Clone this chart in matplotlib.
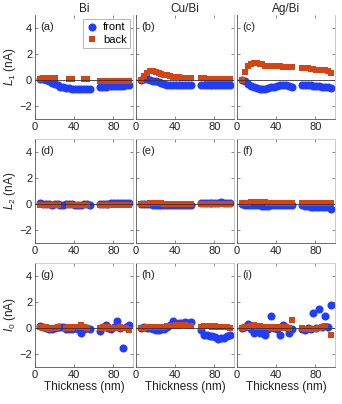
import numpy as np
import matplotlib.pyplot as plt

plt.rcParams['font.family'] = ['Liberation Sans', 'DejaVu Sans']
plt.rcParams['mathtext.fontset'] = 'custom'
plt.rcParams['mathtext.rm'] = 'Liberation Sans'
plt.rcParams['mathtext.it'] = 'Liberation Sans:italic'

nan = np.nan

# film thickness (nm), shared by all panels
thickness = [5, 8, 11, 14, 17, 20, 23, 26, 29, 32, 35, 38, 41, 44, 47, 50, 53, 56,
             66, 69, 72, 75, 78, 81, 84, 87, 90, 93, 96]

titles = ['Bi', 'Cu/Bi', 'Ag/Bi']
ylabels = [r'$L_1$ (nA)', r'$L_2$ (nA)', r'$I_0$ (nA)']
tags = ['(a)', '(b)', '(c)', '(d)', '(e)', '(f)', '(g)', '(h)', '(i)']

# L1
front_a = [0.1, 0.05, 0.0, -0.1, -0.2, -0.3, -0.4, -0.5, -0.55, -0.6, -0.65, -0.7, -0.72, -0.72, -0.72, -0.7, -0.72, -0.7,
           -0.55, -0.5, -0.5, -0.48, -0.45, -0.45, -0.45, -0.45, -0.45, -0.42, -0.42]
back_a = [0.1, 0.15, 0.15, 0.15, 0.15, 0.15, nan, nan, nan, nan, 0.05, 0.05, nan, nan, nan, 0.05, 0.05, nan,
          -0.05, -0.05, -0.05, -0.05, -0.05, -0.05, -0.05, -0.05, -0.05, -0.05, -0.05]
front_b = [0.0, 0.05, 0.05, 0.0, -0.05, -0.1, -0.15, -0.25, -0.3, -0.35, -0.35, -0.38, -0.38, -0.38, -0.38, -0.38, -0.38, -0.38,
           -0.35, -0.35, -0.35, -0.35, -0.35, -0.35, -0.35, -0.35, -0.35, -0.35, -0.35]
back_b = [0.0, 0.3, 0.55, 0.7, 0.72, 0.65, 0.55, 0.45, 0.4, 0.35, 0.3, 0.25, 0.22, 0.2, 0.18, 0.15, 0.15, 0.15,
          0.12, 0.12, 0.1, 0.1, 0.1, 0.1, 0.1, 0.1, 0.08, 0.08, 0.08]
front_c = [0.0, -0.1, -0.3, -0.45, -0.55, -0.65, -0.7, -0.72, -0.7, -0.6, -0.55, -0.5, -0.45, -0.42, -0.4, -0.4, -0.45, -0.5,
           -0.38, -0.4, -0.4, -0.42, -0.45, -0.45, -0.48, -0.5, -0.5, -0.55, -0.6]
back_c = [0.0, 0.6, 1.1, 1.25, 1.3, 1.3, 1.25, 1.2, 1.1, 1.1, 1.05, 1.05, 1.05, 1.05, 1.0, 1.0, 1.0, 1.0,
          0.95, 0.9, 0.9, 0.85, 0.82, 0.8, 0.78, 0.75, 0.75, 0.7, 0.55]

# L2
front_d = [0.05, 0.0, 0.0, 0.0, -0.05, 0.0, 0.0, -0.1, -0.1, 0.0, 0.0, 0.0, -0.05, -0.1, -0.05, 0.0, 0.0, -0.05,
           0.0, 0.0, 0.0, 0.0, 0.05, 0.05, 0.05, 0.1, 0.1, 0.05, 0.05]
back_d = [-0.05, -0.05, -0.05, -0.05, -0.05, -0.05, -0.05, nan, nan, nan, -0.05, -0.05, -0.05, -0.05, -0.05, -0.05, -0.05, nan,
          -0.05, -0.05, -0.05, -0.05, -0.05, -0.05, -0.05, -0.05, -0.05, -0.05, -0.05]
front_e = [0.0, 0.0, 0.0, 0.0, -0.05, -0.05, -0.05, -0.05, -0.05, -0.1, -0.1, -0.1, -0.1, -0.1, -0.1, -0.1, -0.1, -0.05,
           0.05, 0.05, 0.05, 0.05, 0.1, 0.1, 0.1, 0.15, 0.1, 0.1, 0.1]
back_e = [0.0, 0.0, 0.0, 0.05, 0.05, 0.05, 0.05, 0.05, 0.0, 0.0, 0.0, 0.0, 0.0, 0.0, 0.0, 0.0, 0.0, 0.0,
          0.0, 0.0, 0.0, 0.0, 0.0, 0.0, 0.0, 0.0, 0.0, 0.0, 0.0]
front_f = [0.0, -0.1, -0.1, -0.1, -0.1, -0.1, -0.1, -0.15, -0.15, -0.15, -0.1, -0.1, -0.1, -0.1, -0.1, -0.1, -0.1, -0.1,
           -0.1, -0.15, -0.15, -0.2, -0.2, -0.2, -0.2, -0.2, -0.2, -0.25, -0.35]
back_f = [0.05, 0.1, 0.1, 0.15, 0.15, 0.15, 0.15, 0.15, 0.15, 0.1, 0.1, 0.1, 0.1, 0.1, 0.1, 0.1, 0.1, 0.1,
          0.05, 0.05, 0.05, 0.05, 0.05, 0.05, 0.05, 0.05, 0.05, 0.05, 0.1]

# I0
front_g = [0.15, 0.05, 0.0, -0.05, -0.1, 0.0, 0.05, 0.1, 0.05, -0.1, -0.05, -0.1, 0.0, -0.1, -0.35, -0.1, 0.0, -0.1,
           -0.25, 0.05, 0.25, 0.0, -0.1, 0.1, 0.55, 0.0, -1.5, 0.05, 0.2]
back_g = [0.05, 0.0, 0.05, -0.05, 0.0, 0.0, 0.05, nan, nan, 0.0, 0.05, 0.0, 0.05, 0.1, 0.2, 0.05, 0.0, nan,
          0.0, 0.05, 0.0, 0.05, 0.0, 0.0, 0.0, 0.05, 0.0, 0.0, -0.15]
front_h = [0.0, 0.05, 0.0, 0.0, -0.05, -0.15, -0.15, -0.1, -0.1, 0.05, 0.2, 0.55, 0.3, 0.4, 0.4, 0.45, 0.4, 0.45,
           -0.15, -0.5, -0.55, -0.6, -0.6, -0.7, -0.85, -0.8, -0.75, -0.6, -0.5]
back_h = [0.0, 0.0, 0.05, 0.05, 0.1, 0.05, 0.1, 0.1, 0.1, 0.15, 0.15, 0.15, 0.2, 0.15, 0.2, 0.2, 0.15, 0.15,
          0.1, 0.15, 0.15, 0.15, 0.1, 0.15, 0.1, 0.1, 0.05, 0.05, 0.0]
front_i = [0.0, 0.1, 0.3, -0.1, -0.4, -0.2, -0.35, -0.3, -0.55, -0.1, 0.9, 0.0, -0.1, -0.55, 0.25, 0.1, -0.35, -0.1,
           -0.05, -0.15, 0.0, -0.1, 1.15, 0.0, 1.5, 0.05, 0.95, 0.1, 1.8]
back_i = [0.0, 0.05, 0.1, 0.15, 0.25, 0.1, 0.15, 0.1, 0.05, 0.1, 0.0, 0.05, 0.0, 0.05, 0.0, 0.05, 0.0, 0.65,
          0.0, -0.05, -0.05, -0.1, -0.1, -0.05, 0.0, 0.05, 0.15, nan, -0.55]

front = [[front_a, front_b, front_c], [front_d, front_e, front_f], [front_g, front_h, front_i]]
back = [[back_a, back_b, back_c], [back_d, back_e, back_f], [back_g, back_h, back_i]]

blue = '#1f3cff'
red = '#d9430f'

fig = plt.figure(figsize=(3.42, 4.04), dpi=100)
W, H = 342.0, 404.0
lefts = [35, 136, 237]
tops = [15, 139, 263]
aw, ah = 98, 104

for r in range(3):
    for c in range(3):
        ax = fig.add_axes([lefts[c] / W, 1 - (tops[r] + ah) / H, aw / W, ah / H])
        ax.plot(thickness, front[r][c], 'o', color=blue, ms=5.8, mew=0, label='front', zorder=2)
        ax.plot(thickness, back[r][c], 's', color=red, ms=5.0, mew=0, label='back', zorder=3)
        ax.axhline(0, color='#333333', lw=0.6, zorder=5)
        ax.set_xlim(0, 100)
        ax.set_ylim(-3, 5)
        ax.set_xticks([0, 40, 80])
        ax.set_yticks([-2, 0, 2, 4])
        ax.tick_params(direction='in', length=2.5, width=0.5, colors='#555555', labelcolor='#222222',
                       labelsize=8, pad=2, top=True, right=True)
        ax.spines['left'].set_color('#555555')
        ax.spines['bottom'].set_color('#555555')
        ax.spines['right'].set_color('#c0c0c0')
        ax.spines['top'].set_color('#c8c8c8')
        for s in ax.spines.values():
            s.set_linewidth(0.6)
        if r == 0:
            ax.spines['top'].set_visible(False)
            ax.set_title(titles[c], fontsize=8.5, pad=2, color='#222222')
        if c == 0:
            ax.set_ylabel(ylabels[r], fontsize=8.5, labelpad=1, color='#222222')
        else:
            ax.set_yticklabels([])
        if r == 2:
            ax.set_xlabel('Thickness (nm)', fontsize=8.5, labelpad=1, color='#222222')
        ax.text(0.05, 0.93, tags[3 * r + c], transform=ax.transAxes, fontsize=8,
                va='top', ha='left', color='#222222')
        if r == 0 and c == 0:
            leg = ax.legend(loc='upper right', bbox_to_anchor=(0.97, 0.96), fontsize=8,
                            handlelength=1.0, handletextpad=0.5, borderpad=0.3,
                            labelspacing=0.2, fancybox=False, framealpha=1,
                            borderaxespad=0)
            leg.get_frame().set_edgecolor('#aaaaaa')
            leg.get_frame().set_linewidth(0.6)

fig.savefig('out.png', dpi=100)
